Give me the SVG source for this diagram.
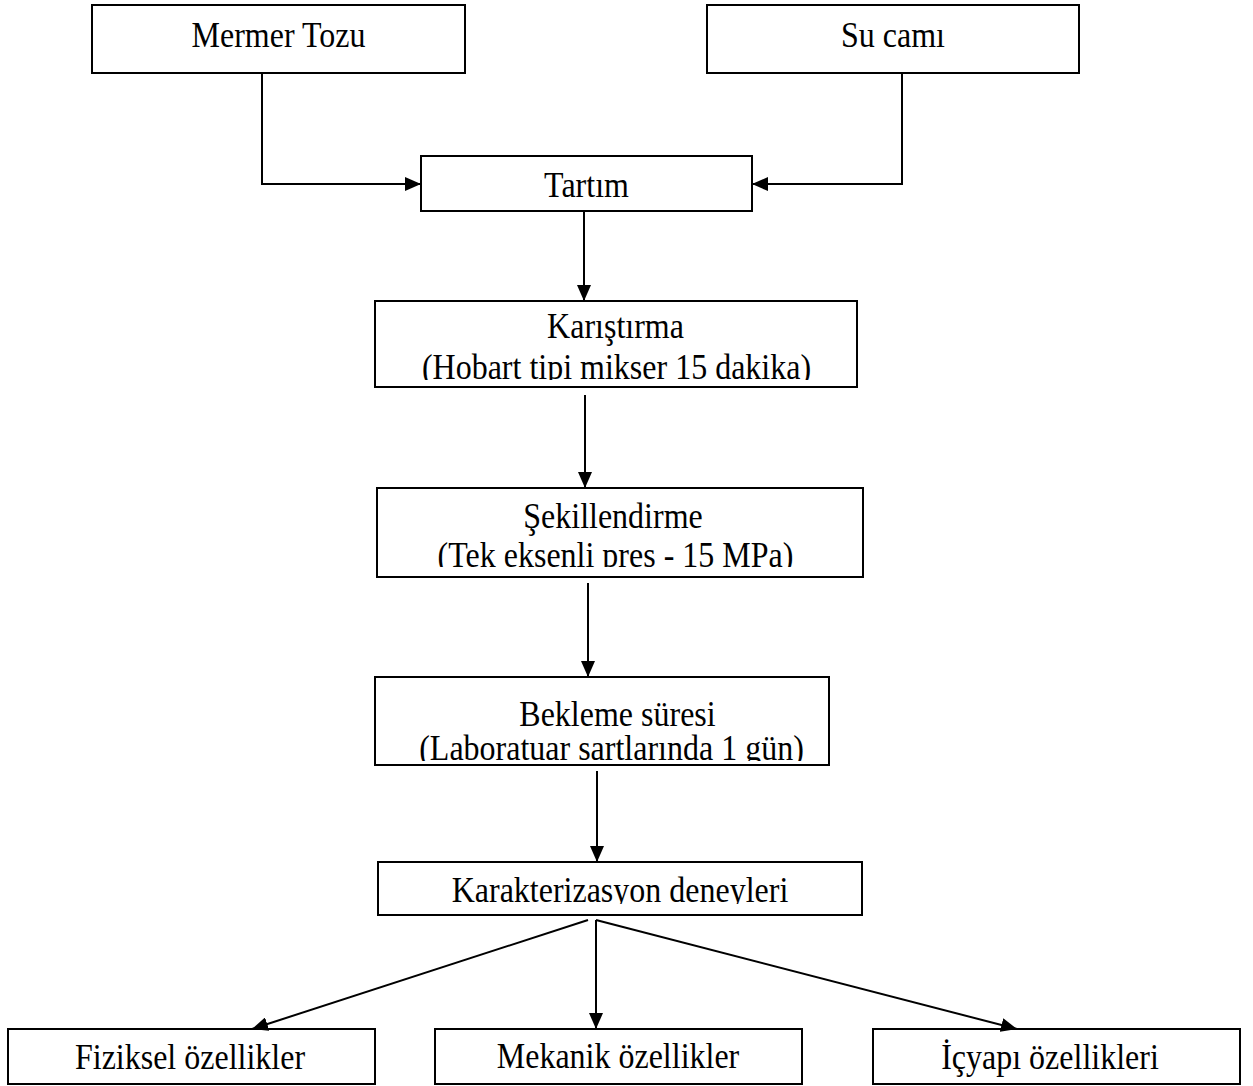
<svg xmlns="http://www.w3.org/2000/svg" width="1253" height="1086" viewBox="0 0 1253 1086">
<style>
rect.box{fill:#fff;stroke:#000;stroke-width:2}
text{font-family:"Liberation Serif","Times New Roman",serif;font-size:32px;fill:#000;text-anchor:middle}
.conn path{fill:none;stroke:#000;stroke-width:2}
</style>
<defs>
<marker id="arr" markerUnits="userSpaceOnUse" markerWidth="16" markerHeight="14" refX="16" refY="7" orient="auto">
<path d="M0,0 L16,7 L0,14 z" fill="#000"/>
</marker>
<clipPath id="c1"><rect x="370" y="290" width="500" height="90"/></clipPath>
<clipPath id="c2"><rect x="370" y="480" width="500" height="87"/></clipPath>
<clipPath id="c3"><rect x="370" y="670" width="500" height="91"/></clipPath>
<clipPath id="c4"><rect x="370" y="860" width="500" height="44"/></clipPath>
</defs>
<g id="n-mermer"><rect class="box" x="92" y="5" width="373" height="68"/><text transform="translate(278.5,47) scale(1,1.12)">Mermer Tozu</text></g>
<g id="n-sucami"><rect class="box" x="707" y="5" width="372" height="68"/><text transform="translate(893,47) scale(1,1.12)">Su camı</text></g>
<g id="n-tartim"><rect class="box" x="421" y="156" width="331" height="55"/><text transform="translate(586.5,197) scale(1,1.12)">Tartım</text></g>
<g id="n-karistirma"><rect class="box" x="375" y="301" width="482" height="86"/>
<g clip-path="url(#c1)"><text transform="translate(615.5,338) scale(1,1.12)">Karıştırma</text><text transform="translate(616.5,379) scale(1,1.12)">(Hobart tipi mikser 15 dakika)</text></g></g>
<g id="n-sekillendirme"><rect class="box" x="377" y="488" width="486" height="89"/>
<g clip-path="url(#c2)"><text transform="translate(613,528) scale(1,1.12)">Şekillendirme</text><text transform="translate(615.5,567) scale(1,1.12)">(Tek eksenli pres - 15 MPa)</text></g></g>
<g id="n-bekleme"><rect class="box" x="375" y="677" width="454" height="88"/>
<g clip-path="url(#c3)"><text transform="translate(617.5,726) scale(1,1.12)">Bekleme süresi</text><text transform="translate(611.5,760) scale(1,1.12)">(Laboratuar sartlarında 1 gün)</text></g></g>
<g id="n-karakter"><rect class="box" x="378" y="862" width="484" height="53"/>
<g clip-path="url(#c4)"><text transform="translate(620,902) scale(1,1.12)">Karakterizasyon deneyleri</text></g></g>
<g id="n-fiziksel"><rect class="box" x="8" y="1029" width="367" height="55"/><text transform="translate(190,1069) scale(1,1.12)">Fiziksel özellikler</text></g>
<g id="n-mekanik"><rect class="box" x="435" y="1029" width="367" height="55"/><text transform="translate(618,1068) scale(1,1.12)">Mekanik özellikler</text></g>
<g id="n-icyapi"><rect class="box" x="873" y="1029" width="367" height="55"/><text transform="translate(1050,1069) scale(1,1.12)">İçyapı özellikleri</text></g>
<g class="conn" id="connectors">
<path d="M262,73 V184 H421" marker-end="url(#arr)"/>
<path d="M902,73 V184 H752" marker-end="url(#arr)"/>
<path d="M584,211 V301" marker-end="url(#arr)"/>
<path d="M585,395 V488" marker-end="url(#arr)"/>
<path d="M588,583 V677" marker-end="url(#arr)"/>
<path d="M597,771 V862" marker-end="url(#arr)"/>
<path d="M588,920 L252,1029" marker-end="url(#arr)"/>
<path d="M596,920 V1029" marker-end="url(#arr)"/>
<path d="M596,920 L1017,1029" marker-end="url(#arr)"/>
</g>
</svg>
